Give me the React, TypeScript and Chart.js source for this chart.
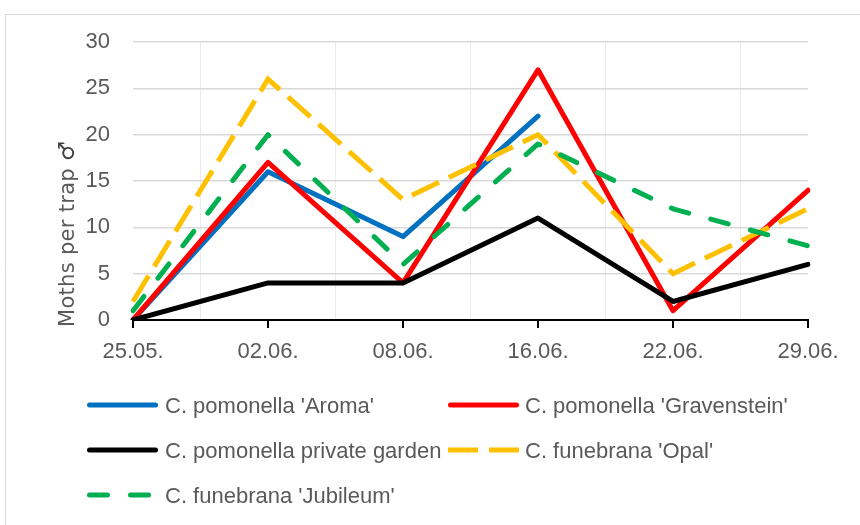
import React, { useEffect, useRef } from 'react';
import { Chart, registerables } from 'chart.js';

Chart.register(...registerables);

const categories = ['25.05.', '02.06.', '08.06.', '16.06.', '22.06.', '29.06.'];
const aroma = [0, 16, 9, 22, null, null];
const gravenstein = [0, 17, 4, 27, 1, 14];
const privateGarden = [0, 4, 4, 11, 2, 6];
const opal = [2, 26, 13, 20, 5, 12];
const jubileum = [1, 20, 6, 19, 12, 8];
const seriesNames = [
  "C. pomonella 'Aroma'",
  "C. pomonella 'Gravenstein'",
  'C. pomonella private garden',
  "C. funebrana 'Opal'",
  "C. funebrana 'Jubileum'",
];
const yMin = 0;
const yMax = 30;
const yStep = 5;
const yTitle = 'Moths per trap ';
const yTitleSymbol = '♂';

const FONT = '"Liberation Sans", Arial, sans-serif';
const TEXT = '#595959';

const frame = {
  id: 'frame',
  beforeDraw(chart: any) {
    const ctx = chart.ctx;
    ctx.save();
    ctx.fillStyle = '#ffffff';
    ctx.fillRect(0, 0, chart.width, chart.height);
    ctx.strokeStyle = '#d9d9d9';
    ctx.lineWidth = 1;
    ctx.beginPath();
    ctx.moveTo(5.5, chart.height + 5);
    ctx.lineTo(5.5, 14.5);
    ctx.lineTo(chart.width + 5, 14.5);
    ctx.stroke();
    ctx.restore();
  },
  afterDraw(chart: any) {
    const ctx = chart.ctx;
    const xs = chart.scales.x;
    const bottom = chart.chartArea.bottom;
    ctx.save();
    // tick marks at the categories
    ctx.strokeStyle = '#000';
    ctx.lineWidth = 2;
    ctx.beginPath();
    for (let i = 0; i < xs.ticks.length; i++) {
      const px = Math.round(xs.getPixelForTick(i));
      ctx.moveTo(px, bottom);
      ctx.lineTo(px, bottom + 8);
    }
    ctx.stroke();

    // y axis title
    ctx.save();
    ctx.translate(74, 327);
    ctx.rotate(-Math.PI / 2);
    ctx.font = '21px "DejaVu Sans", sans-serif';
    (ctx as any).letterSpacing = '0.3px';
    ctx.fillStyle = TEXT;
    ctx.textAlign = 'left';
    ctx.textBaseline = 'alphabetic';
    ctx.fillText(yTitle, 0, 0);
    const w = ctx.measureText(yTitle).width;
    ctx.font = 'bold 22px "DejaVu Sans", sans-serif';
    ctx.fillStyle = '#404040';
    ctx.fillText(yTitleSymbol, w, 0);
    ctx.restore();

    // legend
    const cols = [
      { x0: 87, x1: 158, tx: 165 },
      { x0: 448, x1: 519, tx: 525 },
    ];
    const rows = [405, 450, 495];
    ctx.font = '22px ' + FONT;
    ctx.textBaseline = 'alphabetic';
    ctx.textAlign = 'left';
    chart.data.datasets.forEach((ds: any, i: number) => {
      const c = cols[i % 2];
      const y = rows[Math.floor(i / 2)];
      ctx.save();
      ctx.strokeStyle = ds.borderColor;
      ctx.lineWidth = 5;
      const cap = ds.borderCapStyle || 'butt';
      ctx.lineCap = cap;
      ctx.setLineDash(ds.borderDash || []);
      const inset = cap === 'round' ? 2.5 : 0;
      ctx.beginPath();
      ctx.moveTo(c.x0 + inset, y);
      ctx.lineTo(c.x1 - inset, y);
      ctx.stroke();
      ctx.restore();
      ctx.fillStyle = TEXT;
      ctx.fillText(ds.label, c.tx, y + 7.5);
    });
    ctx.restore();
  },
};

function line(label: string, data: (number | null)[], color: string, order: number, extra: any = {}) {
  return {
    label,
    data,
    borderColor: color,
    backgroundColor: color,
    borderWidth: 5,
    pointRadius: 0,
    pointHoverRadius: 0,
    tension: 0,
    fill: false,
    spanGaps: false,
    borderCapStyle: 'round',
    borderJoinStyle: 'round',
    order,
    ...extra,
  };
}

export default function App() {
  const ref = useRef<HTMLCanvasElement | null>(null);
  useEffect(() => {
    document.body.style.margin = '0';
    if (!ref.current) return;
    const chart = new Chart(ref.current, {
      type: 'line',
      data: {
        labels: categories,
        datasets: [
          line(seriesNames[0], aroma, '#0070C0', 5),
          line(seriesNames[1], gravenstein, '#FF0000', 4),
          line(seriesNames[2], privateGarden, '#000000', 3),
          line(seriesNames[3], opal, '#FFC000', 2, { borderDash: [30, 11], borderCapStyle: 'butt', borderJoinStyle: 'miter' }),
          line(seriesNames[4], jubileum, '#00B050', 1, { borderDash: [18, 23], borderCapStyle: 'round' }),
        ] as any,
      },
      options: {
        animation: false,
        responsive: false,
        maintainAspectRatio: false,
        events: [],
        layout: { padding: { left: 0, right: 52, top: 42, bottom: 145 } },
        plugins: { legend: { display: false }, tooltip: { enabled: false }, title: { display: false } },
        scales: {
          x: {
            type: 'category',
            offset: false,
            grid: { offset: true, color: '#ebebeb', lineWidth: 1, drawTicks: false },
            border: { display: true, color: '#000000', width: 2 },
            ticks: { padding: 19, color: TEXT, font: { family: FONT, size: 22 }, maxRotation: 0, autoSkip: false },
            afterFit: (s: any) => { s.height = 60; },
          },
          y: {
            min: yMin,
            max: yMax,
            grid: { color: '#d9d9d9', lineWidth: 1.5, drawTicks: false },
            border: { display: false },
            ticks: { stepSize: yStep, padding: 23, color: TEXT, font: { family: FONT, size: 22 } },
            afterFit: (s: any) => { s.width = 133; },
          },
        },
      },
      plugins: [frame],
    });
    return () => chart.destroy();
  }, []);
  return (
    <div style={{ width: 860, height: 525 }}>
      <canvas ref={ref} width={860} height={525} style={{ display: 'block', width: 860, height: 525 }} />
    </div>
  );
}
